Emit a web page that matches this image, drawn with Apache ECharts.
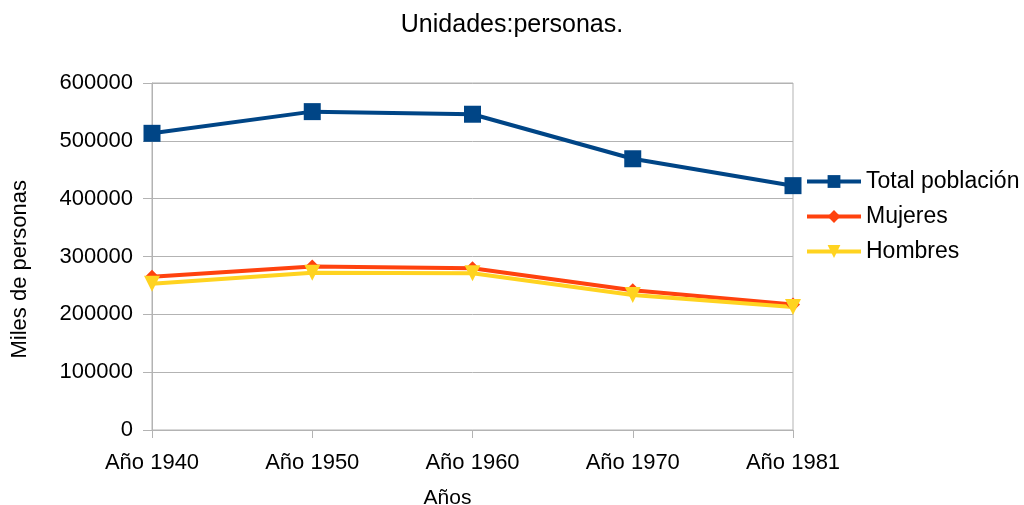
<!DOCTYPE html>
<html>
<head>
<meta charset="utf-8">
<script src="https://cdn.jsdelivr.net/npm/echarts@6/dist/echarts.min.js"></script>
<style>html,body{margin:0;padding:0;background:#fff;}#c{width:1024px;height:505px;}</style>
</head>
<body>
<div id="c"></div>
<script>
const categories = ['Año 1940', 'Año 1950', 'Año 1960', 'Año 1970', 'Año 1981'];
const total = [513000, 550500, 546000, 469000, 422500];
const mujeres = [265000, 282500, 279500, 241500, 217000];
const hombres = [253000, 272000, 271000, 233500, 212500];
const seriesNames = ['Total población', 'Mujeres', 'Hombres'];
const titleText = 'Unidades:personas.';
const xName = 'Años';
const yName = 'Miles de personas';

const FONT = '"Liberation Sans", Arial, sans-serif';
const chart = echarts.init(document.getElementById('c'));
chart.setOption({
  backgroundColor: '#fff',
  animation: false,
  textStyle: { fontFamily: FONT },
  title: {
    text: titleText, left: 'center', top: 8,
    textStyle: { fontFamily: FONT, fontSize: 25, fontWeight: 'normal', color: '#000' }
  },
  legend: {
    orient: 'vertical', left: 800, top: 165, itemGap: 12,
    itemWidth: 54, itemHeight: 16,
    lineStyle: { width: 4 },
    textStyle: { fontFamily: FONT, fontSize: 23, color: '#000' },
    data: seriesNames
  },
  graphic: [{
    type: 'text', left: 9, top: 180,
    rotation: Math.PI / 2,
    style: { text: yName, font: '22px "Liberation Sans", Arial, sans-serif', fill: '#000' }
  }],
  grid: {
    left: 152, right: 231, top: 83, bottom: 75, show: true,
    outerBoundsMode: 'none', containLabel: false,
    borderColor: '#b3b3b3', borderWidth: 1, backgroundColor: 'transparent'
  },
  xAxis: {
    type: 'category', data: categories, boundaryGap: false,
    name: xName, nameLocation: 'middle', nameGap: 58,
    nameTextStyle: { fontFamily: FONT, fontSize: 21, color: '#000', padding: [0, 50, 0, 0] },
    axisLine: { lineStyle: { color: '#b3b3b3' } },
    axisTick: { show: true, length: 8, lineStyle: { color: '#b3b3b3' } },
    axisLabel: { fontFamily: FONT, fontSize: 22, color: '#000', margin: 22 },
    splitLine: { show: false }
  },
  yAxis: {
    type: 'value', min: 0, max: 600000, interval: 100000,
    axisLine: { show: true, lineStyle: { color: '#b3b3b3' } },
    axisTick: { show: true, length: 9, lineStyle: { color: '#b3b3b3' } },
    axisLabel: { fontFamily: FONT, fontSize: 22, color: '#000', margin: 19,
      formatter: v => String(v) },
    splitLine: { lineStyle: { color: '#b3b3b3' } }
  },
  series: [
    { name: seriesNames[0], type: 'line', data: total, color: '#004586',
      symbol: 'rect', symbolSize: 17, lineStyle: { width: 4 } },
    { name: seriesNames[1], type: 'line', data: mujeres, color: '#ff420e',
      symbol: 'diamond', symbolSize: 14, lineStyle: { width: 4 } },
    { name: seriesNames[2], type: 'line', data: hombres, color: '#ffd320',
      symbol: 'triangle', symbolRotate: 180, symbolSize: 16, lineStyle: { width: 4 } }
  ]
});
</script>
</body>
</html>
